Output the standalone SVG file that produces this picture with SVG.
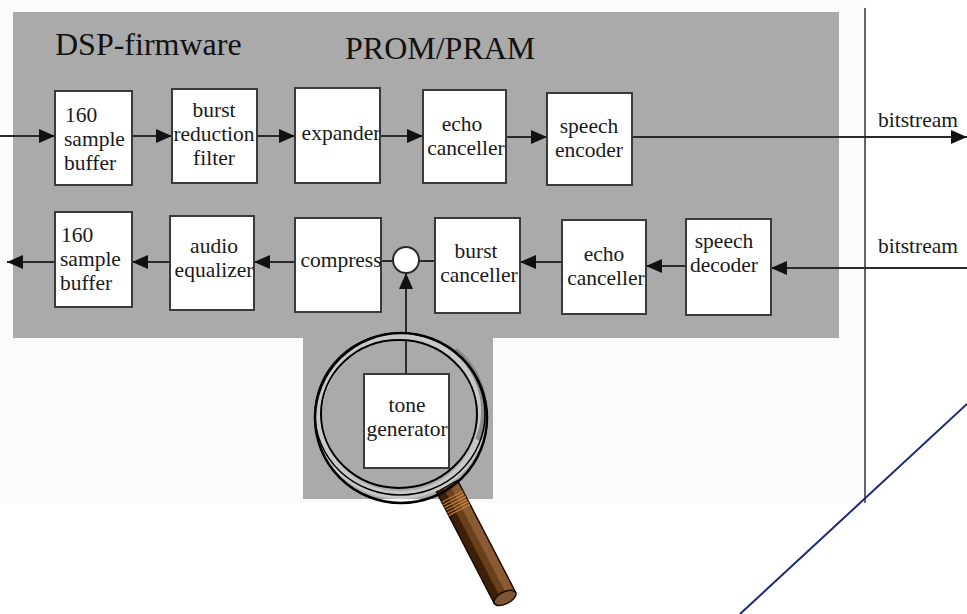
<svg xmlns="http://www.w3.org/2000/svg" width="967" height="614" viewBox="0 0 967 614">
  <style>
    .box { fill: #ffffff; stroke: #3a3a3a; stroke-width: 2; }
    .lbl { font-family: "Liberation Serif", "Times New Roman", serif; font-size: 21.5px; fill: #1a1a1a; }
    .mid { text-anchor: middle; }
    .title { font-family: "Liberation Serif", "Times New Roman", serif; font-size: 32px; fill: #111111; }
    .wire { fill: none; stroke: #2a2a2a; stroke-width: 2; }
    .arr { marker-end: url(#head); }
  </style>
  <defs>
    <marker id="head" markerUnits="userSpaceOnUse" markerWidth="17" markerHeight="14" refX="16" refY="7" orient="auto">
      <path d="M0,0 L16,7 L0,14 Z" fill="#111111"/>
    </marker>
  </defs>

  <rect width="967" height="614" fill="#ffffff"/>
  <rect x="0" y="0" width="865" height="503" fill="#fbfbfb"/>

  <!-- firmware area -->
  <g id="firmware-area" font-family="Liberation Serif, Times New Roman, serif">
    <path d="M13,12 H839 V338 H493 V499 H303 V338 H13 Z" fill="#aaaaaa"/>
    <text class="title" x="55" y="55">DSP-firmware</text>
    <text class="title" x="345" y="59">PROM/PRAM</text>
  </g>

  <!-- divider -->
  <line x1="865" y1="8" x2="865" y2="503" stroke="#666666" stroke-width="2"/>

  <!-- connectors -->
  <g id="connectors" font-family="Liberation Serif, Times New Roman, serif">
    <line class="wire arr" x1="0" y1="136" x2="55" y2="136"/>
    <line class="wire arr" x1="132" y1="136" x2="172" y2="136"/>
    <line class="wire arr" x1="257" y1="136" x2="295" y2="136"/>
    <line class="wire arr" x1="380" y1="136" x2="423" y2="136"/>
    <line class="wire arr" x1="506" y1="137" x2="547" y2="137"/>
    <line class="wire arr" x1="632" y1="137" x2="967" y2="137"/>

    <line class="wire arr" x1="967" y1="268" x2="771" y2="268"/>
    <line class="wire arr" x1="686" y1="266" x2="646" y2="266"/>
    <line class="wire arr" x1="562" y1="262" x2="520" y2="262"/>
    <line class="wire" x1="435" y1="261" x2="419" y2="261"/>
    <line class="wire" x1="393" y1="261" x2="381" y2="261"/>
    <line class="wire arr" x1="295" y1="262" x2="254" y2="262"/>
    <line class="wire arr" x1="170" y1="262" x2="132" y2="262"/>
    <line class="wire arr" x1="55" y1="262" x2="7" y2="262"/>

    <line class="wire arr" x1="406" y1="374" x2="406" y2="273"/>

    <text class="lbl" x="878" y="127">bitstream</text>
    <text class="lbl" x="878" y="253">bitstream</text>
  </g>

  <g font-family="Liberation Serif, Times New Roman, serif">
  <!-- transmit chain -->
  <g id="tx-buffer">
    <rect class="box" x="55" y="91" width="77" height="94"/>
    <text class="lbl" x="65" y="122">160</text>
    <text class="lbl" x="64" y="146">sample</text>
    <text class="lbl" x="64" y="170">buffer</text>
  </g>
  <g id="burst-reduction">
    <rect class="box" x="172" y="89" width="85" height="94"/>
    <text class="lbl mid" x="214" y="117">burst</text>
    <text class="lbl mid" x="214" y="141">reduction</text>
    <text class="lbl mid" x="214" y="165">filter</text>
  </g>
  <g id="expander">
    <rect class="box" x="295" y="88" width="85" height="95"/>
    <text class="lbl mid" x="341" y="140">expander</text>
  </g>
  <g id="tx-echo">
    <rect class="box" x="423" y="90" width="83" height="93"/>
    <text class="lbl mid" x="462" y="131">echo</text>
    <text class="lbl mid" x="466" y="155">canceller</text>
  </g>
  <g id="speech-encoder">
    <rect class="box" x="547" y="93" width="85" height="92"/>
    <text class="lbl mid" x="589" y="133">speech</text>
    <text class="lbl mid" x="589" y="157">encoder</text>
  </g>

  <!-- receive chain -->
  <g id="rx-buffer">
    <rect class="box" x="55" y="212" width="77" height="95"/>
    <text class="lbl" x="61" y="242">160</text>
    <text class="lbl" x="60" y="266">sample</text>
    <text class="lbl" x="60" y="290">buffer</text>
  </g>
  <g id="audio-equalizer">
    <rect class="box" x="170" y="216" width="84" height="94"/>
    <text class="lbl mid" x="214" y="253">audio</text>
    <text class="lbl mid" x="214" y="277">equalizer</text>
  </g>
  <g id="compress">
    <rect class="box" x="295" y="218" width="86" height="94"/>
    <text class="lbl mid" x="341" y="267">compress</text>
  </g>
  <g id="mixer">
    <circle cx="406" cy="260" r="13" fill="#ffffff" stroke="#2a2a2a" stroke-width="2"/>
  </g>
  <g id="burst-canceller">
    <rect class="box" x="435" y="218" width="85" height="95"/>
    <text class="lbl mid" x="476" y="258">burst</text>
    <text class="lbl mid" x="479" y="282">canceller</text>
  </g>
  <g id="rx-echo">
    <rect class="box" x="562" y="220" width="84" height="94"/>
    <text class="lbl mid" x="604" y="261">echo</text>
    <text class="lbl mid" x="606" y="285">canceller</text>
  </g>
  <g id="speech-decoder">
    <rect class="box" x="686" y="219" width="85" height="96"/>
    <text class="lbl mid" x="724" y="248">speech</text>
    <text class="lbl mid" x="724" y="272">decoder</text>
  </g>
  <g id="tone-generator">
    <rect class="box" x="364" y="374" width="85" height="94"/>
    <text class="lbl mid" x="407" y="412" fill="#333333">tone</text>
    <text class="lbl mid" x="407" y="436" fill="#333333">generator</text>
  </g>
  </g>

  <!-- magnifier -->
  <g id="magnifier">
    <g transform="translate(447,486) rotate(62.6)">
      <rect x="0" y="-12" width="126" height="24" fill="#6a3f1c"/>
      <rect x="0" y="-12" width="126" height="9" fill="#8a5a30"/>
      <rect x="0" y="4" width="126" height="8" fill="#3e1f08"/>
      <rect x="0" y="-12" width="126" height="24" fill="none" stroke="#1a0c02" stroke-width="1.5"/>
      <g stroke="#d08a3a" stroke-width="1">
        <line x1="12" y1="-12" x2="12" y2="12"/>
        <line x1="15" y1="-12" x2="15" y2="12"/>
        <line x1="18" y1="-12" x2="18" y2="12"/>
        <line x1="21" y1="-12" x2="21" y2="12"/>
        <line x1="24" y1="-12" x2="24" y2="12"/>
        <line x1="27" y1="-12" x2="27" y2="12"/>
      </g>
      <ellipse cx="126" cy="0" rx="6" ry="12" fill="#7d5636" stroke="#1a0c02" stroke-width="1.5"/>
    </g>
    <ellipse cx="400" cy="416" rx="82" ry="79" fill="none" stroke="#c8c8c8" stroke-width="8"/>
    <path d="M455,350 A82,79 0 0 1 478,440" fill="none" stroke="#8c8c8c" stroke-width="6"/>
    <ellipse cx="401" cy="418" rx="86" ry="85" fill="none" stroke="#000000" stroke-width="2.5"/>
    <ellipse cx="400" cy="414" rx="85" ry="81" fill="none" stroke="#000000" stroke-width="1.5"/>
    <ellipse cx="399" cy="414" rx="78" ry="74" fill="none" stroke="#000000" stroke-width="2"/>
  </g>

  <!-- diagonal -->
  <line x1="740" y1="614" x2="967" y2="404" stroke="#1a2a7a" stroke-width="2"/>
</svg>
